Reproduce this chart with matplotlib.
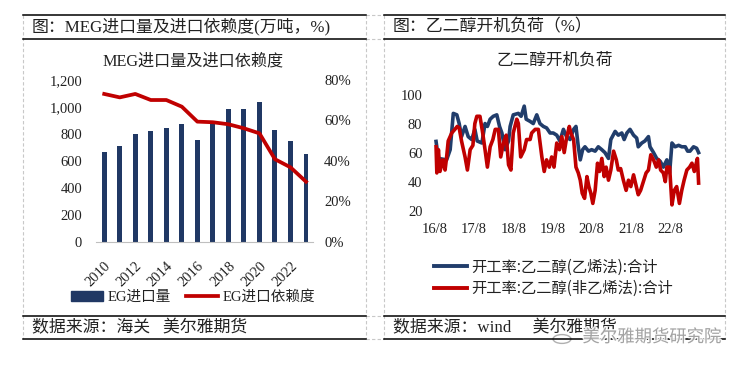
import matplotlib
matplotlib.use("Agg")
import matplotlib.pyplot as plt
import matplotlib.patheffects as pe
import matplotlib.transforms as mtrans
from matplotlib.lines import Line2D
from matplotlib.patches import Patch, Circle

# ---------------- data ----------------
years = [2010, 2011, 2012, 2013, 2014, 2015, 2016, 2017, 2018, 2019, 2020, 2021, 2022, 2023]
eg_import = [665, 710, 800, 822, 844, 872, 755, 882, 985, 985, 1037, 829, 750, 651]
eg_dependence = [73.1, 71.4, 73.1, 70.1, 70.1, 66.8, 59.4, 59.1, 58.1, 56.1, 53.6, 40.8, 36.8, 29.7]
left_yticks = [0, 200, 400, 600, 800, 1000, 1200]
right_yticks = [0, 20, 40, 60, 80]
left_xticks = [2010, 2012, 2014, 2016, 2018, 2020, 2022]

eth_t = [2016.61, 2016.67, 2016.88, 2016.97, 2017.05, 2017.14, 2017.20, 2017.26, 2017.35, 2017.43,
         2017.52, 2017.60, 2017.66, 2017.78, 2017.86, 2017.92, 2017.99, 2018.07, 2018.16, 2018.23,
         2018.29, 2018.37, 2018.46, 2018.50, 2018.58, 2018.71, 2018.78, 2018.86, 2018.91, 2019.01,
         2019.09, 2019.18, 2019.26, 2019.35, 2019.43, 2019.52, 2019.60, 2019.69, 2019.77, 2019.86,
         2019.94, 2020.03, 2020.12, 2020.18, 2020.24, 2020.29, 2020.35, 2020.41, 2020.50, 2020.58,
         2020.67, 2020.75, 2020.84, 2020.92, 2021.01, 2021.07, 2021.18, 2021.26, 2021.35, 2021.41,
         2021.48, 2021.56, 2021.65, 2021.73, 2021.77, 2021.86, 2021.94, 2022.03, 2022.07, 2022.16,
         2022.24, 2022.33, 2022.41, 2022.50, 2022.57, 2022.63, 2022.71, 2022.80, 2022.88, 2022.97,
         2023.03, 2023.09, 2023.18, 2023.26, 2023.31]
eth_v = [67.7, 56, 55, 62, 87, 86, 80, 71, 78, 71,
         69, 76, 68, 66.6, 80, 78, 83, 85, 86, 78,
         73.5, 62, 68, 78, 86, 87, 85, 92, 83, 81.5,
         80, 86, 80, 78, 77, 73.5, 73.5, 72, 68, 76,
         71, 69, 76, 78, 64, 55, 62, 64, 61, 62,
         61, 64, 62, 60, 56, 69, 74.6, 72, 73.5, 69,
         73.5, 76, 72, 70, 64, 66.6, 68, 71, 64, 60,
         56, 54, 50, 55, 46, 66.6, 64, 65, 64, 64,
         61, 61, 64, 63, 60]

non_t = [2016.61, 2016.63, 2016.67, 2016.71, 2016.78, 2016.84, 2016.88, 2016.92, 2017.01, 2017.09,
         2017.15, 2017.20, 2017.26, 2017.35, 2017.41, 2017.48, 2017.55, 2017.60, 2017.65, 2017.73,
         2017.80, 2017.86, 2017.92, 2017.99, 2018.06, 2018.12, 2018.20, 2018.26, 2018.33, 2018.40,
         2018.46, 2018.52, 2018.58, 2018.67, 2018.71, 2018.77, 2018.86, 2018.92, 2019.01, 2019.05,
         2019.14, 2019.22, 2019.31, 2019.37, 2019.43, 2019.50, 2019.56, 2019.62, 2019.69, 2019.76,
         2019.82, 2019.88, 2019.94, 2020.01, 2020.05, 2020.12, 2020.18, 2020.24, 2020.29, 2020.34,
         2020.40, 2020.46, 2020.51, 2020.56, 2020.61, 2020.67, 2020.73, 2020.78, 2020.84, 2020.90,
         2020.95, 2021.01, 2021.07, 2021.14, 2021.21, 2021.26, 2021.32, 2021.39, 2021.46, 2021.52,
         2021.58, 2021.65, 2021.72, 2021.77, 2021.83, 2021.90, 2021.97, 2022.03, 2022.09, 2022.16,
         2022.23, 2022.29, 2022.34, 2022.41, 2022.46, 2022.50, 2022.57, 2022.63, 2022.69, 2022.75,
         2022.82, 2022.88, 2022.94, 2023.01, 2023.08, 2023.14, 2023.20, 2023.25, 2023.28, 2023.31]
non_v = [64, 46, 62, 47, 55, 48, 57, 68, 73.5, 76,
         78, 77, 68, 57, 48, 62, 65, 80, 85, 85,
         73.5, 62, 50, 64, 69, 76, 76, 57, 66.6, 72,
         51.6, 48, 73.5, 83, 80, 57, 62, 69, 69, 73.5,
         76, 76, 57, 47, 55, 50, 57, 50, 66.6, 62,
         71, 60, 70, 78, 73.5, 69, 50, 46, 41, 32,
         28.5, 43.5, 36.6, 32, 25, 34, 52.7, 47, 56, 43.5,
         50, 41, 48, 61, 55, 48, 49, 41, 34, 41,
         36.6, 44.7, 36.6, 31, 34, 40, 46, 48, 58.5, 55,
         50, 55, 48, 46, 40, 50, 50, 24, 34, 36.6,
         25, 34, 41, 48, 50, 52.7, 47, 52.7, 56, 39]

right_xtick_pos = [2016 + 7/12, 2017 + 7/12, 2018 + 7/12, 2019 + 7/12, 2020 + 7/12, 2021 + 7/12, 2022 + 7/12]
right_xtick_labels = ["16/8", "17/8", "18/8", "19/8", "20/8", "21/8", "22/8"]
right_yticks_r = [20, 40, 60, 80, 100]

# ---------------- style ----------------
FAM = ["Liberation Serif", "Noto Sans CJK SC"]
SANS = ["Noto Sans CJK SC", "DejaVu Sans"]
plt.rcParams["font.family"] = FAM
NAVY = "#203864"
BLUE = "#213D6B"
RED = "#C00000"
TXT = "#222222"

W, H = 747, 368
fig = plt.figure(figsize=(W / 100, H / 100), dpi=100)
fig.patch.set_facecolor("white")


def fx(x):
    return x / W


def fy(y):
    return 1 - y / H


def hline(x0, x1, y, **kw):
    fig.add_artist(Line2D([fx(x0), fx(x1)], [fy(y), fy(y)], transform=fig.transFigure, **kw))


def vline(x, y0, y1, **kw):
    fig.add_artist(Line2D([fx(x), fx(x)], [fy(y0), fy(y1)], transform=fig.transFigure, **kw))


dash = dict(color="#c8c8c8", lw=0.8, ls=(0, (3, 2)))
solid = dict(color="black", lw=1.1)

# frame lines
for y in (15, 39, 316, 339):
    hline(366, 384, y, **dash)
for x in (23, 366, 384, 725):
    vline(x, 15, 339, **dash)
for y in (15, 39, 316, 339):
    hline(23, 366, y, **solid)
    hline(384, 725, y, **solid)

# header / footer texts
fig.text(fx(32), fy(27), "图：MEG进口量及进口依赖度(万吨，%)", fontsize=12.2, color=TXT, va="center", ha="left")
fig.text(fx(32), fy(328), "数据来源：海关   美尔雅期货", fontsize=12.2, color=TXT, va="center", ha="left")
fig.text(fx(393), fy(27), "图：乙二醇开机负荷（%）", fontsize=12.2, color=TXT, va="center", ha="left")
fig.text(fx(393), fy(328), "数据来源：wind     美尔雅期货", fontsize=12.2, color=TXT, va="center", ha="left")

# ---------------- left chart ----------------
axL = fig.add_axes([fx(96), fy(241.7), fx(313) - fx(96), fy(80) - fy(241.7)])
axL.bar(years, eg_import, width=0.32, color=NAVY, zorder=2)
axL.set_xlim(2009.47, 2023.45)
axL.set_ylim(0, 1200)
axL.set_yticks(left_yticks)
axL.set_yticklabels([f"{v:,}" for v in left_yticks], fontsize=10.5, color=TXT)
axL.set_xticks(left_xticks)
axL.set_xticklabels([str(v) for v in left_xticks], rotation=45, ha="right",
                    rotation_mode="anchor", fontsize=10.5, color=TXT)
shift = mtrans.ScaledTranslation(-4 / 100, 0, fig.dpi_scale_trans)
for lab in axL.get_xticklabels():
    lab.set_transform(lab.get_transform() + shift)
axL.tick_params(axis="both", length=0)
axL.tick_params(axis="x", pad=13)
axL.tick_params(axis="y", pad=10)
for s in ("top", "right", "left"):
    axL.spines[s].set_visible(False)
axL.spines["bottom"].set_color("#bfbfbf")
axL.patch.set_alpha(0)

axR = axL.twinx()
axR.plot(years, eg_dependence, color=RED, lw=2.7, solid_joinstyle="round", zorder=3)
axR.set_ylim(0, 80)
axR.set_yticks(right_yticks)
axR.set_yticklabels([f"{v}%" for v in right_yticks], fontsize=10.5, color=TXT)
axR.tick_params(axis="y", length=0, pad=8)
for s in ("top", "right", "left", "bottom"):
    axR.spines[s].set_visible(False)

fig.text(fx(193), fy(61), "MEG进口量及进口依赖度", fontsize=11.6, color=TXT, ha="center", va="center")

handles = [Patch(facecolor=NAVY, edgecolor=NAVY), Line2D([0], [0], color=RED, lw=2.7)]
fig.legend(handles, ["EG进口量", "EG进口依赖度"], loc="center",
           bbox_to_anchor=(fx(193), fy(297)), ncol=2, frameon=False,
           fontsize=10.5, handlelength=2.2, handleheight=0.7, columnspacing=1.0, handletextpad=0.3,
           labelcolor=TXT)

# ---------------- right chart ----------------
ax2 = fig.add_axes([fx(435), fy(210.7), fx(699) - fx(435), fy(94.5) - fy(210.7)])
ax2.plot(eth_t, eth_v, color=BLUE, lw=2.6, clip_on=False, zorder=2, solid_joinstyle="round")
ax2.plot(non_t, non_v, color=RED, lw=2.6, clip_on=False, zorder=3, solid_joinstyle="round")
ax2.set_xlim(2016.583, 2023.32)
ax2.set_ylim(20, 100)
ax2.set_yticks(right_yticks_r)
ax2.set_yticklabels([str(v) for v in right_yticks_r], fontsize=10.5, color=TXT)
ax2.set_xticks(right_xtick_pos)
ax2.set_xticklabels(right_xtick_labels, fontsize=10.5, color=TXT)
ax2.tick_params(axis="both", length=0)
ax2.tick_params(axis="y", pad=9)
ax2.tick_params(axis="x", pad=9)
for s in ax2.spines.values():
    s.set_visible(False)
ax2.patch.set_alpha(0)

fig.text(fx(555), fy(60), "乙二醇开机负荷", fontsize=12, color=TXT, ha="center", va="center",
         family=SANS)

handles2 = [Line2D([0], [0], color=BLUE, lw=2.8), Line2D([0], [0], color=RED, lw=2.8)]
fig.legend(handles2, ["开工率:乙二醇(乙烯法):合计", "开工率:乙二醇(非乙烯法):合计"],
           loc="center left", bbox_to_anchor=(fx(420), fy(278)), ncol=1, frameon=False,
           handlelength=2.2, handletextpad=0.25, labelspacing=0.3,
           prop={"family": SANS, "size": 11}, labelcolor=TXT)

# watermark (overlaps the footer in the reference as well)
fig.text(fx(652), fy(337), "美尔雅期货研究院", fontsize=12.5, color="#9a9a9a", ha="center", va="center",
         family=SANS, alpha=0.9,
         path_effects=[pe.withStroke(linewidth=2, foreground="white")])
fig.add_artist(Circle((fx(562), fy(339)), 0.012, transform=fig.transFigure, fill=False,
                      edgecolor="#b0b0b0", lw=1.0))

fig.savefig("out.png", dpi=100, facecolor="white")
